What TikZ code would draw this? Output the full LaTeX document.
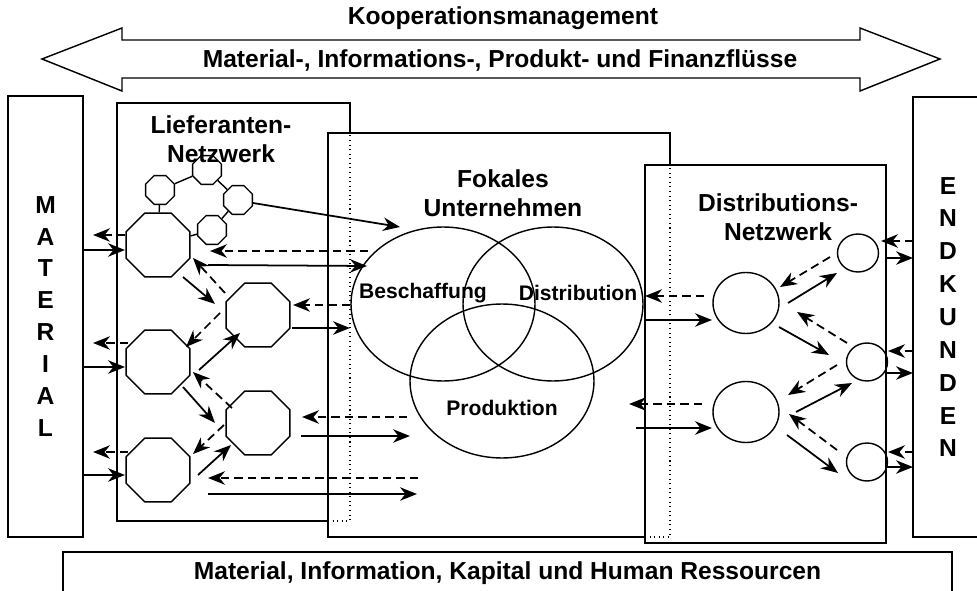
\documentclass[tikz,border=0pt]{standalone}
\usepackage{fontspec}
\setmainfont{Liberation Sans}
\usetikzlibrary{shapes.geometric,arrows.meta,calc}

\begin{document}
\begin{tikzpicture}[x=0.02cm, y=-0.02cm,
    frame/.style={line width=0.8pt},
    hole/.style={line width=0.6pt, dotted},
    oct/.style={shape=regular polygon, regular polygon sides=8, draw=black, line width=0.8pt, minimum size=1.38cm, inner sep=0pt},
    smalloct/.style={oct, minimum size=0.62cm},
    venn/.style={shape=ellipse, draw=black, line width=0.8pt, minimum width=3.68cm, minimum height=3.08cm, inner sep=0pt},
    site/.style={shape=ellipse, draw=black, line width=0.8pt, inner sep=0pt},
    box/.style={draw=black, line width=0.8pt, inner sep=0pt},
    sol/.style={line width=1pt, -{Stealth[length=3.4mm,width=2.7mm,inset=1.1mm]}},
    dsh/.style={sol, dash pattern=on 1.7mm off 1mm},
    title/.style={font=\fontsize{14}{16.5}\selectfont\bfseries, align=center},
    lbl/.style={font=\fontsize{12}{14}\selectfont\bfseries}]
    \useasboundingbox (0,0) rectangle (977,591);

    % big double arrow on top
    \draw[frame] (42,59) -- (122,28) -- (122,40) -- (860,40) -- (860,28) -- (940,59)
        -- (860,91) -- (860,78) -- (122,78) -- (122,91) -- cycle;
    \node[title] (koop) at (503,18) {Kooperationsmanagement};
    \node[title] (flows) at (500,60) {Material-, Informations-, Produkt- und Finanzflüsse};

    % outer boxes
    \node[box, minimum width=1.5cm, minimum height=8.82cm, align=center, font=\fontsize{14}{18.2}\selectfont\bfseries] (mat) at (45.5,316.5) {M\\A\\T\\E\\R\\I\\A\\L};
    \node[box, minimum width=1.4cm, minimum height=8.8cm, align=center, font=\fontsize{14}{18.7}\selectfont\bfseries] (kun) at (948,317) {E\\N\\D\\K\\U\\N\\D\\E\\N};
    \node[box, minimum width=17.78cm, minimum height=0.86cm, font=\fontsize{14}{16.5}\selectfont\bfseries] (res) at (507.5,573.5) {Material, Information, Kapital und Human Ressourcen};

    % network frames
    \draw[frame] (350,133) -- (350,103) -- (117,103) -- (117,521) -- (328,521);
    \draw[hole] (328,521) -- (350,521) -- (350,133);
    \draw[frame] (670,165) -- (670,133) -- (328,133) -- (328,537) -- (645,537);
    \draw[hole] (645,537) -- (670,537) -- (670,165);
    \draw[frame] (645,165) rectangle (886,543);

    \node[title] (lief) at (221,139) {Lieferanten-\\Netzwerk};
    \node[title] (fok) at (503,193) {Fokales\\Unternehmen};
    \node[title] (dnet) at (778,217) {Distributions-\\Netzwerk};

    % suppliers
    \node[smalloct] (s1) at (160,190) {};
    \node[smalloct] (s2) at (207,170) {};
    \node[smalloct] (s3) at (238,200) {};
    \node[smalloct] (s4) at (212,230) {};
    \node[oct] (L1) at (158,245) {};
    \node[oct] (L2) at (258,315) {};
    \node[oct] (L3) at (158,362) {};
    \node[oct] (L4) at (258,423) {};
    \node[oct] (L5) at (158,470) {};

    \path[frame] (L1) edge (s1);
    \path[frame] (s1) edge (s2);
    \path[frame] (s2) edge (s3);
    \path[frame] (s3) edge (s4);
    \path[frame] (s4) edge (L1);

    % focal company
    \node[venn] (besch) at (443,304) {};
    \node[venn, minimum width=3.6cm] (distr) at (553,304) {};
    \node[venn] (prod) at (502,381) {};
    \node[lbl] (beschl) at (423,293) {Beschaffung};
    \node[lbl] (distrl) at (578,293) {Distribution};
    \node[lbl] (prodl) at (502,408) {Produktion};

    % distribution sites
    \node[site, minimum width=1.32cm, minimum height=1.22cm] (D1) at (746,303) {};
    \node[site, minimum width=1.32cm, minimum height=1.22cm] (D2) at (746,412) {};
    \node[site, minimum width=0.82cm, minimum height=0.76cm] (c1) at (858,253) {};
    \node[site, minimum width=0.82cm, minimum height=0.76cm] (c2) at (867,362) {};
    \node[site, minimum width=0.82cm, minimum height=0.76cm] (c3) at (867,462) {};

    % material <-> suppliers
    \path[dsh] ($(L1)+(-33,-10)$) edge ($(L1)+(-65,-10)$);
    \path[sol] ($(L1)+(-75,5)$) edge ($(L1)+(-33,5)$);
    \path[dsh] ($(L3)+(-30,-19)$) edge ($(L3)+(-65,-19)$);
    \path[sol] ($(L3)+(-75,5)$) edge ($(L3)+(-33,5)$);
    \path[dsh] ($(L5)+(-30,-18)$) edge ($(L5)+(-65,-18)$);
    \path[sol] ($(L5)+(-75,5)$) edge ($(L5)+(-33,5)$);

    % inside the supplier network
    \path[sol] ($(L1)+(25,32)$) edge ($(L2)+(-43,-11)$);
    \path[dsh] ($(L2)+(-33,-22)$) edge ($(L1)+(35,13)$);
    \path[dsh] ($(L2)+(-38,-2)$) edge ($(L3)+(28,-15)$);
    \path[sol] ($(L3)+(41,8)$) edge ($(L2)+(-18,18)$);
    \path[sol] ($(L3)+(25,25)$) edge ($(L4)+(-43,0)$);
    \path[dsh] ($(L4)+(-26,-15)$) edge ($(L3)+(35,10)$);
    \path[dsh] ($(L4)+(-34,2)$) edge ($(L5)+(35,-16)$);
    \path[sol] ($(L5)+(40,5)$) edge ($(L4)+(-27,22)$);

    % suppliers <-> focal company
    \path[sol] ($(s3)+(15,3)$) edge ($(besch)+(-43,-77)$);
    \path[dsh] ($(besch)+(-75,-53)$) edge ($(L1)+(52,6)$);
    \path[sol] ($(L1)+(50,20)$) edge ($(besch)+(-76,-38)$);
    \path[dsh] ($(besch)+(-93,1)$) edge ($(L2)+(35,-10)$);
    \path[sol] ($(L2)+(34,13)$) edge ($(besch)+(-93,24)$);
    \path[dsh] ($(prod)+(-95,36)$) edge ($(L4)+(44,-6)$);
    \path[sol] ($(L4)+(43,13)$) edge ($(prod)+(-92,55)$);
    \path[dsh] ($(prod)+(-84,97)$) edge ($(L5)+(50,8)$);
    \path[sol] ($(L5)+(50,24)$) edge ($(prod)+(-85,113)$);

    % focal company <-> distribution network
    \path[dsh] ($(D1)+(-42,-7)$) edge ($(distr)+(92,-8)$);
    \path[sol] ($(distr)+(92,16)$) edge ($(D1)+(-34,17)$);
    \path[dsh] ($(D2)+(-44,-8)$) edge ($(prod)+(127,23)$);
    \path[sol] ($(prod)+(134,47)$) edge ($(D2)+(-34,16)$);

    % inside the distribution network
    \path[sol] ($(D1)+(42,0)$) edge ($(c1)+(-21,20)$);
    \path[dsh] ($(c1)+(-28,4)$) edge ($(D1)+(34,-16)$);
    \path[sol] ($(D1)+(33,24)$) edge ($(c2)+(-38,-7)$);
    \path[dsh] ($(c2)+(-20,-19)$) edge ($(D1)+(51,9)$);
    \path[dsh] ($(c2)+(-30,3)$) edge ($(D2)+(42,-17)$);
    \path[sol] ($(D2)+(50,0)$) edge ($(c2)+(-15,21)$);
    \path[dsh] ($(c3)+(-30,-12)$) edge ($(D2)+(43,2)$);
    \path[sol] ($(D2)+(41,23)$) edge ($(c3)+(-29,11)$);

    % distribution network <-> end customers
    \path[dsh] ($(c1)+(55,-12)$) edge ($(c1)+(23,-12)$);
    \path[sol] ($(c1)+(29,5)$) edge ($(c1)+(55,5)$);
    \path[dsh] ($(c2)+(46,-11)$) edge ($(c2)+(21,-11)$);
    \path[sol] ($(c2)+(20,11)$) edge ($(c2)+(46,11)$);
    \path[dsh] ($(c3)+(46,-10)$) edge ($(c3)+(21,-10)$);
    \path[sol] ($(c3)+(20,5)$) edge ($(c3)+(46,5)$);
\end{tikzpicture}
\end{document}
